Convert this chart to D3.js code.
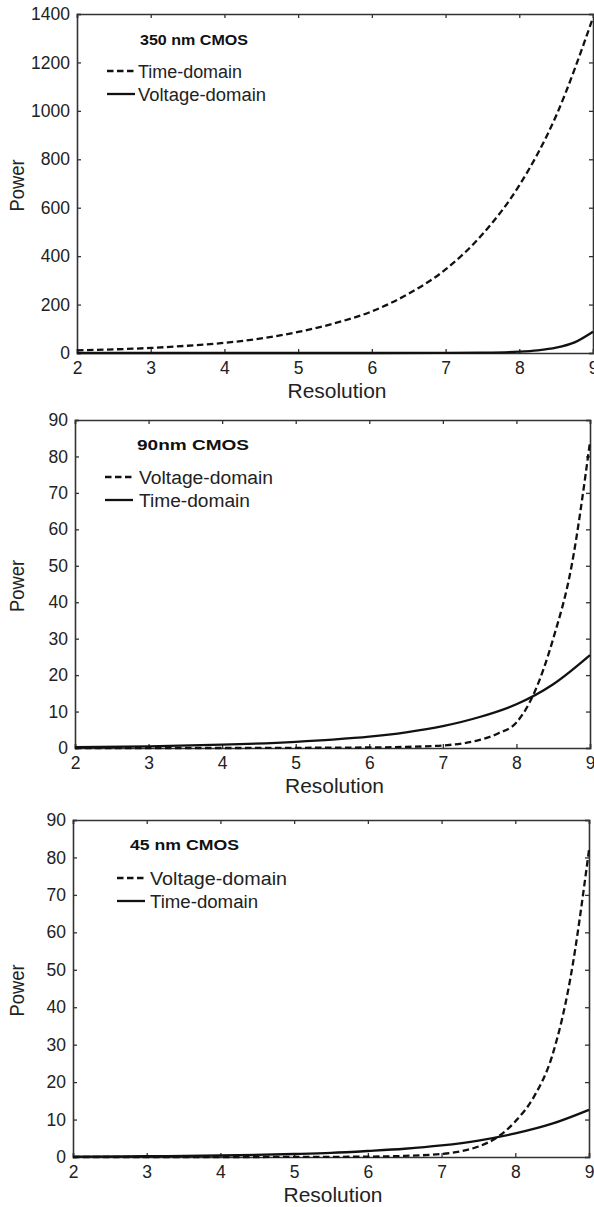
<!DOCTYPE html>
<html>
<head>
<meta charset="utf-8">
<script src="https://cdn.jsdelivr.net/npm/d3@7"></script>
<style>
  body { margin: 0; background: #fff; }
  svg { display: block; font-family: "Liberation Sans", Arial, sans-serif; }
</style>
</head>
<body>
<div id="vis"></div>
<script>
// tick labels
const resTicks = [2, 3, 4, 5, 6, 7, 8, 9];
const ticks350 = [0, 200, 400, 600, 800, 1000, 1200, 1400];
const ticks90 = [0, 10, 20, 30, 40, 50, 60, 70, 80, 90];

// 350 nm CMOS
const time350X = [2, 2.5, 3, 3.5, 4, 4.5, 5, 5.5, 6, 6.5, 7, 7.5, 8, 8.5, 9];
const time350Y = [11, 15, 21, 30, 42, 60, 87, 123, 172, 245, 345, 490, 692, 980, 1385];
const volt350X = [2, 3, 4, 5, 6, 7, 7.5, 8, 8.25, 8.5, 8.75, 9];
const volt350Y = [0, 0, 0, 0, 0.1, 0.4, 1.5, 5.5, 11, 22, 44, 88];

// 90 nm CMOS
const volt90X = [2, 3, 4, 5, 6, 6.5, 7, 7.25, 7.5, 7.75, 8, 8.25, 8.5, 8.75, 9];
const volt90Y = [0, 0, 0, 0.05, 0.15, 0.3, 0.7, 1.2, 2.2, 4, 7, 15.5, 30, 50, 84];
const time90X = [2, 3, 4, 5, 5.5, 6, 6.5, 7, 7.5, 8, 8.5, 9];
const time90Y = [0.2, 0.45, 0.9, 1.7, 2.3, 3.1, 4.3, 6, 8.5, 12, 17.5, 25.5];

// 45 nm CMOS
const volt45X = [2, 3, 4, 5, 6, 6.5, 7, 7.25, 7.5, 7.75, 8, 8.25, 8.5, 8.75, 9];
const volt45Y = [0, 0, 0, 0.02, 0.1, 0.3, 0.8, 1.5, 2.8, 5.2, 9.5, 16, 27, 48, 82];
const time45X = [2, 3, 4, 5, 5.5, 6, 6.5, 7, 7.5, 8, 8.5, 9];
const time45Y = [0.1, 0.2, 0.4, 0.8, 1.1, 1.6, 2.2, 3.1, 4.4, 6.3, 8.9, 12.6];

const width = 594, height = 1207;
const svg = d3.select("#vis").append("svg")
    .attr("width", width)
    .attr("height", height);

const panels = [
    {title: "350 nm CMOS", left: 77, right: 593, top: 14, bottom: 353, yMax: 1400, yTicks: ticks350,
     titleX: 140, titleY: 45, titleW: 108, legX: 107, legY: 71, legText: 138, legW: [104, 128],
     series: [
        {name: "Time-domain", xs: time350X, ys: time350Y, dash: true},
        {name: "Voltage-domain", xs: volt350X, ys: volt350Y, dash: false}
     ]},
    {title: "90nm CMOS", left: 75, right: 590, top: 420, bottom: 748, yMax: 90, yTicks: ticks90,
     titleX: 137, titleY: 450, titleW: 112, legX: 105, legY: 477, legText: 139, legW: [134, 111],
     series: [
        {name: "Voltage-domain", xs: volt90X, ys: volt90Y, dash: true},
        {name: "Time-domain", xs: time90X, ys: time90Y, dash: false}
     ]},
    {title: "45 nm CMOS", left: 73, right: 589, top: 820, bottom: 1157, yMax: 90, yTicks: ticks90,
     titleX: 130, titleY: 850, titleW: 109, legX: 117, legY: 878, legText: 150, legW: [137, 108],
     series: [
        {name: "Voltage-domain", xs: volt45X, ys: volt45Y, dash: true},
        {name: "Time-domain", xs: time45X, ys: time45Y, dash: false}
     ]}
];

const axisColor = "#333";

panels.forEach(function (p) {
    var x = d3.scaleLinear().domain([2, 9]).range([p.left, p.right]);
    var y = d3.scaleLinear().domain([0, p.yMax]).range([p.bottom, p.top]);
    var g = svg.append("g");

    // box axes, MATLAB style ticks pointing in
    var bottom = g.append("g")
        .attr("transform", "translate(0," + p.bottom + ")")
        .call(d3.axisBottom(x).tickValues(resTicks).tickSize(-4).tickPadding(9).tickFormat(d3.format("d")));
    var left = g.append("g")
        .attr("transform", "translate(" + p.left + ",0)")
        .call(d3.axisLeft(y).tickValues(p.yTicks).tickSize(-4).tickPadding(7).tickFormat(d3.format("d")));
    var top = g.append("g")
        .attr("transform", "translate(0," + p.top + ")")
        .call(d3.axisTop(x).tickValues(resTicks).tickSize(-4).tickFormat(""));
    var right = g.append("g")
        .attr("transform", "translate(" + p.right + ",0)")
        .call(d3.axisRight(y).tickValues(p.yTicks).tickSize(-4).tickFormat(""));

    [bottom, left, top, right].forEach(function (a) {
        a.select(".domain").attr("stroke", axisColor).attr("stroke-width", 1.6);
        a.selectAll(".tick line").attr("stroke", axisColor).attr("stroke-width", 1.3);
        a.selectAll(".tick text").attr("fill", "#222").style("font-size", "17.5px")
            .style("font-family", "'Liberation Sans', Arial, sans-serif");
    });

    var line = d3.line()
        .curve(d3.curveMonotoneX)
        .x(function (d) { return x(d[0]); })
        .y(function (d) { return y(d[1]); });

    p.series.forEach(function (s) {
        var pts = s.xs.map(function (v, i) { return [v, s.ys[i]]; });
        g.append("path")
            .attr("d", line(pts))
            .attr("fill", "none")
            .attr("stroke", "#111")
            .attr("stroke-width", 2.3)
            .attr("stroke-dasharray", s.dash ? "6.5,3.5" : null);
    });

    // title and legend
    g.append("text")
        .attr("x", p.titleX).attr("y", p.titleY)
        .attr("fill", "#111")
        .attr("textLength", p.titleW)
        .attr("lengthAdjust", "spacingAndGlyphs")
        .style("font-size", "15.5px").style("font-weight", "bold")
        .text(p.title);

    p.series.forEach(function (s, i) {
        var ly = p.legY + i * 23;
        g.append("line")
            .attr("x1", p.legX).attr("x2", p.legX + 28)
            .attr("y1", ly).attr("y2", ly)
            .attr("stroke", "#111").attr("stroke-width", 2.3)
            .attr("stroke-dasharray", s.dash ? "6.5,3.5" : null);
        g.append("text")
            .attr("x", p.legText).attr("y", ly + 6.5)
            .attr("fill", "#222")
            .attr("textLength", p.legW[i])
            .attr("lengthAdjust", "spacingAndGlyphs")
            .style("font-size", "18px")
            .text(s.name);
    });

    // axis titles
    g.append("text")
        .attr("x", (p.left + p.right) / 2 + 2)
        .attr("y", p.bottom + 45)
        .attr("text-anchor", "middle")
        .attr("fill", "#222")
        .attr("textLength", 99)
        .attr("lengthAdjust", "spacingAndGlyphs")
        .style("font-size", "20px")
        .text("Resolution");
    g.append("text")
        .attr("transform", "translate(24," + ((p.top + p.bottom) / 2 + 2) + ") rotate(-90)")
        .attr("text-anchor", "middle")
        .attr("fill", "#222")
        .attr("textLength", 52)
        .attr("lengthAdjust", "spacingAndGlyphs")
        .style("font-size", "20px")
        .text("Power");
});
</script>
</body>
</html>
